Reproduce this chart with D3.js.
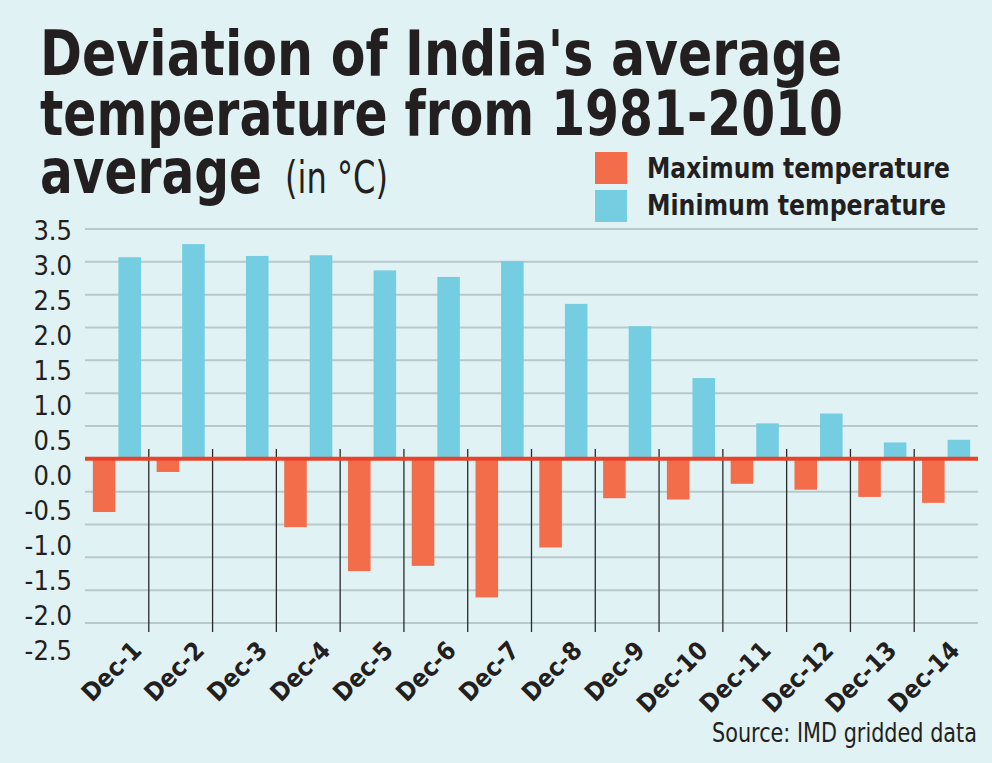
<!DOCTYPE html>
<html>
<head>
<meta charset="utf-8">
<script src="https://cdn.jsdelivr.net/npm/d3@7"></script>
<style>
  body { margin: 0; background: #e1f2f5; }
  svg { display: block; }
  text { font-family: "DejaVu Sans Condensed", "DejaVu Sans", sans-serif; font-stretch: condensed; fill: #231f20; }
</style>
</head>
<body>
<div id="chart"></div>
<script>
const days = ["Dec-1","Dec-2","Dec-3","Dec-4","Dec-5","Dec-6","Dec-7","Dec-8","Dec-9","Dec-10","Dec-11","Dec-12","Dec-13","Dec-14"]
const maxTemp = [-0.81,-0.2,0,-1.04,-1.71,-1.63,-2.11,-1.35,-0.6,-0.62,-0.38,-0.47,-0.58,-0.67]
const minTemp = [3.07,3.27,3.09,3.1,2.87,2.77,3.01,2.36,2.02,1.23,0.54,0.69,0.25,0.29]
const yTicks = [3.5,3.0,2.5,2.0,1.5,1.0,0.5,0.0,-0.5,-1.0,-1.5,-2.0,-2.5]
const seriesNames = ["Maximum temperature","Minimum temperature"]
const COLORS = {max: "#f36d4b", min: "#74cde0"}

const W = 992, H = 763
const PLOT = {LEFT: 85, RIGHT: 978, TOP: 229, BOTTOM: 623}

const svg = d3.select("#chart").append("svg")
    .attr("width", W)
    .attr("height", H)

svg.append("rect").attr("width", W).attr("height", H).attr("fill", "#e1f2f5")

// title, stretched to the widths in the print
const title = [
    {t: "Deviation of India's average", x: 40, y: 75, len: 802, size: 62, bold: true},
    {t: "temperature from 1981-2010", x: 40, y: 135, len: 803, size: 62, bold: true},
    {t: "average", x: 40, y: 193, len: 222, size: 62, bold: true},
    {t: "(in °C)", x: 285, y: 193, len: 103, size: 44, bold: false}
]
svg.append("g").selectAll("text")
    .data(title)
    .join("text")
        .attr("x", d => d.x).attr("y", d => d.y)
        .attr("font-size", d => d.size)
        .attr("font-weight", d => d.bold ? 700 : 400)
        .attr("textLength", d => d.len).attr("lengthAdjust", "spacingAndGlyphs")
        .text(d => d.t)

// legend
const legend = svg.append("g")
seriesNames.forEach((name, i) => {
    legend.append("rect")
        .attr("x", 595).attr("y", 152 + i * 38)
        .attr("width", 32).attr("height", 32)
        .attr("fill", i === 0 ? COLORS.max : COLORS.min)
    legend.append("text")
        .attr("x", 647).attr("y", 178 + i * 37)
        .attr("font-size", 29).attr("font-weight", 700)
        .attr("textLength", i === 0 ? 303 : 299).attr("lengthAdjust", "spacingAndGlyphs")
        .text(name)
})

// scales
const y = d3.scaleLinear().domain([-2.5, 3.5]).range([PLOT.BOTTOM, PLOT.TOP])
// the printed labels sit on their own slightly wider spacing
const yLabel = d3.scaleLinear().domain([-2.5, 3.5]).range([651, 231])

const x = d3.scaleBand().domain(days).range([PLOT.LEFT, PLOT.RIGHT])
const xInner = d3.scaleBand().domain(["max","min"]).range([0, x.bandwidth()])
    .paddingInner(0.118).paddingOuter(0.306)
// label end points drift a little from the bar centres in the print
const xLabel = d3.scalePoint().domain(days).range([143, 961])

// gridlines
svg.append("g").selectAll("line")
    .data(yTicks.filter(d => d !== 0))
    .join("line")
        .attr("x1", PLOT.LEFT).attr("x2", PLOT.RIGHT)
        .attr("y1", d => y(d)).attr("y2", d => y(d))
        .attr("stroke", "#b7c9cc").attr("stroke-width", 2)

// y axis labels
const yAxis = svg.append("g")
    .attr("transform", "translate(72,0)")
    .call(d3.axisLeft(yLabel).tickValues(yTicks).tickSize(0).tickPadding(0)
        .tickFormat(d => d.toFixed(1)))
yAxis.select(".domain").remove()
yAxis.selectAll("text")
    .attr("font-size", 27)
    .attr("font-family", null)
    .attr("fill", "#231f20")

// dividers between days
svg.append("g").selectAll("line")
    .data(days.slice(1))
    .join("line")
        .attr("x1", d => x(d)).attr("x2", d => x(d))
        .attr("y1", 449).attr("y2", 632)
        .attr("stroke", "#2a2a2a").attr("stroke-width", 1.3)

// bars
const groups = svg.append("g").selectAll("g")
    .data(days.map((d, i) => ({day: d, max: maxTemp[i], min: minTemp[i]})))
    .join("g")
        .attr("transform", d => `translate(${x(d.day)},0)`)

groups.append("rect")
    .attr("x", xInner("max"))
    .attr("width", xInner.bandwidth())
    .attr("y", d => y(Math.max(0, d.max)))
    .attr("height", d => Math.abs(y(d.max) - y(0)))
    .attr("fill", COLORS.max)

groups.append("rect")
    .attr("x", xInner("min"))
    .attr("width", xInner.bandwidth())
    .attr("y", d => y(Math.max(0, d.min)))
    .attr("height", d => Math.abs(y(d.min) - y(0)))
    .attr("fill", COLORS.min)

// zero line
svg.append("line")
    .attr("x1", PLOT.LEFT).attr("x2", PLOT.RIGHT)
    .attr("y1", y(0)).attr("y2", y(0))
    .attr("stroke", "#e8432a").attr("stroke-width", 4)

// x labels
svg.append("g").selectAll("text")
    .data(days)
    .join("text")
        .attr("transform", d => `translate(${xLabel(d)},652) rotate(-45)`)
        .attr("text-anchor", "end")
        .attr("font-size", 25).attr("font-weight", 700)
        .text(d => d)

// source
svg.append("text")
    .attr("x", 977).attr("y", 742)
    .attr("text-anchor", "end")
    .attr("font-size", 27)
    .attr("textLength", 265).attr("lengthAdjust", "spacingAndGlyphs")
    .text("Source: IMD gridded data")
</script>
</body>
</html>
